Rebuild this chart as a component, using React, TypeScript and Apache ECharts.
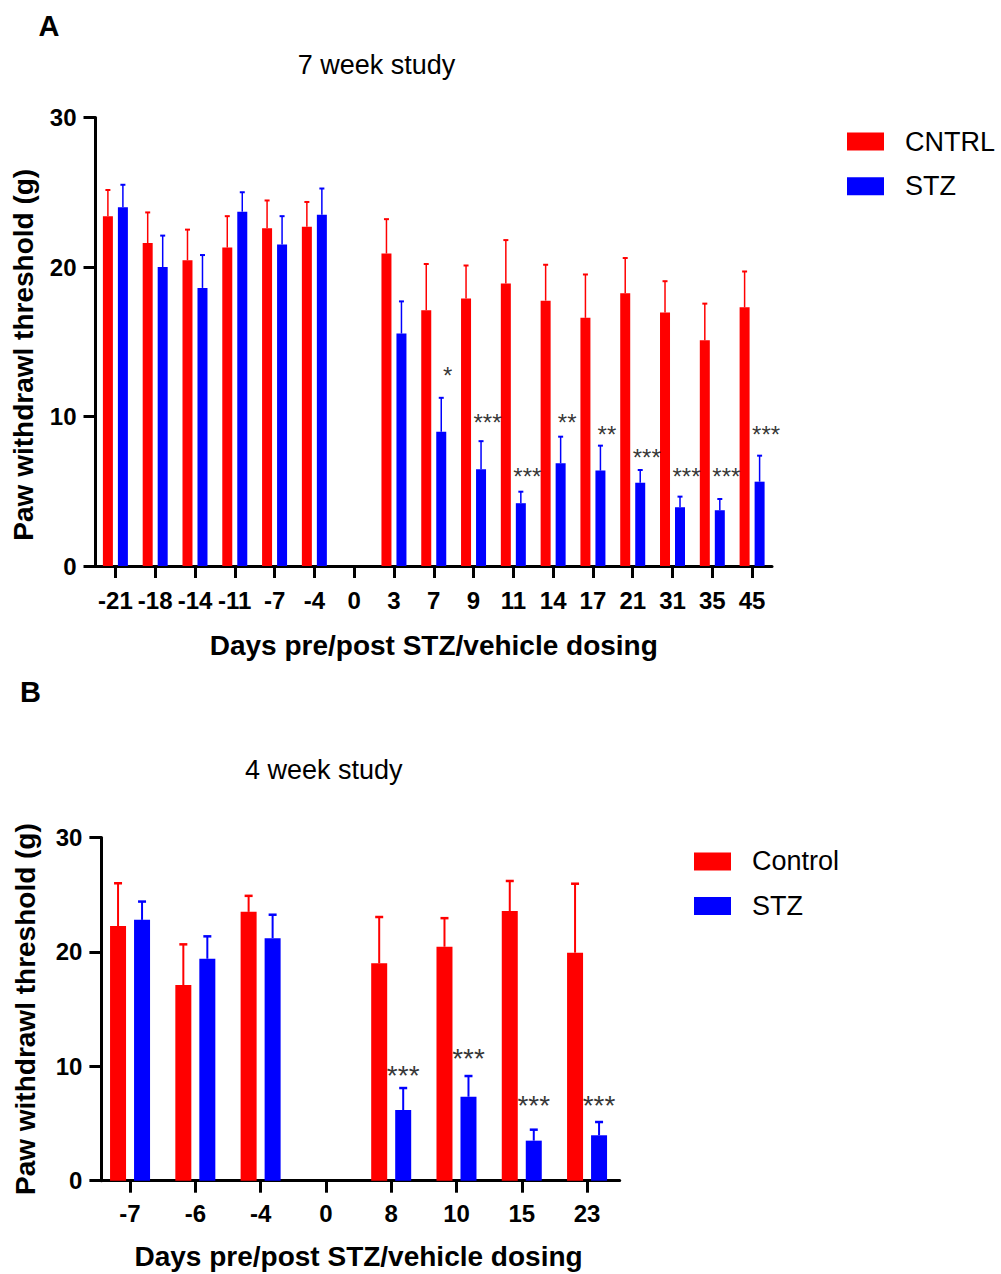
import React, { useEffect, useRef } from "react";
import * as echarts from "echarts";

// ---------- Panel A: 7 week study ----------
const daysA = ["-21", "-18", "-14", "-11", "-7", "-4", "0", "3", "7", "9", "11", "14", "17", "21", "31", "35", "45"];
const cntrlA = [23.4, 21.6, 20.45, 21.3, 22.6, 22.7, null, 20.9, 17.1, 17.9, 18.9, 17.75, 16.6, 18.25, 16.95, 15.1, 17.3];
const cntrlErrA = [1.75, 2.05, 2.05, 2.1, 1.85, 1.65, null, 2.3, 3.1, 2.2, 2.9, 2.4, 2.9, 2.35, 2.1, 2.45, 2.4];
const stzA = [24.0, 20.0, 18.6, 23.7, 21.5, 23.5, null, 15.55, 8.98, 6.47, 4.2, 6.87, 6.38, 5.57, 3.93, 3.73, 5.64];
const stzErrA = [1.5, 2.1, 2.2, 1.3, 1.9, 1.75, null, 2.15, 2.27, 1.88, 0.77, 1.78, 1.67, 0.85, 0.71, 0.75, 1.74];
const starsA = ["", "", "", "", "", "", "", "", "*", "***", "***", "**", "**", "***", "***", "***", "***"];
const starLevelA = [null, null, null, null, null, null, null, null, 12.9, 9.7, 6.15, 9.7, 8.9, 7.4, 6.15, 6.15, 8.9];

// ---------- Panel B: 4 week study ----------
const daysB = ["-7", "-6", "-4", "0", "8", "10", "15", "23"];
const controlB = [22.26, 17.1, 23.5, null, 19.0, 20.45, 23.57, 19.93];
const controlErrB = [3.74, 3.56, 1.4, null, 4.05, 2.5, 2.63, 6.03];
const stzB = [22.8, 19.4, 21.2, null, 6.18, 7.34, 3.5, 3.97];
const stzErrB = [1.6, 1.96, 2.05, null, 1.92, 1.81, 0.96, 1.16];
const starsB = ["", "", "", "", "***", "***", "***", "***"];
const starLevelB = [null, null, null, null, 9.68, 11.2, 7.14, 7.14];

const yTicks = [0, 10, 20, 30];

const FONT = '"Liberation Sans", Arial, Helvetica, sans-serif';
const RED = "#ff0000";
const BLUE = "#0000ff";

function errData(vals: (number | null)[], errs: (number | null)[]) {
  const out: number[][] = [];
  vals.forEach((v, i) => {
    if (v != null && errs[i] != null) out.push([i, v, errs[i] as number]);
  });
  return out;
}

function starData(levels: (number | null)[]) {
  const out: number[][] = [];
  levels.forEach((v, i) => {
    if (v != null) out.push([i, v]);
  });
  return out;
}

function errSeries(name: string, idx: number, vals: any, errs: any, color: string, dx: number, cap: number, lw: number) {
  return {
    name,
    type: "custom",
    xAxisIndex: idx,
    yAxisIndex: idx,
    data: errData(vals, errs),
    encode: { x: 0, y: 1 },
    z: 5,
    renderItem: (params: any, api: any) => {
      const i = api.value(0);
      const v = api.value(1);
      const e = api.value(2);
      const p0 = api.coord([i, v]);
      const p1 = api.coord([i, v + e]);
      const x = p0[0] + dx;
      return {
        type: "group",
        children: [
          { type: "line", shape: { x1: x, y1: p0[1], x2: x, y2: p1[1] }, style: { stroke: color, lineWidth: lw } },
          { type: "line", shape: { x1: x - cap / 2, y1: p1[1], x2: x + cap / 2, y2: p1[1] }, style: { stroke: color, lineWidth: lw + 0.5 } },
        ],
      };
    },
  };
}

function starSeries(name: string, idx: number, levels: any, labels: string[], dx: number, dy: number, fs: number) {
  return {
    name,
    type: "scatter",
    xAxisIndex: idx,
    yAxisIndex: idx,
    data: starData(levels),
    symbolSize: 1,
    itemStyle: { color: "rgba(0,0,0,0)" },
    z: 6,
    label: {
      show: true,
      position: "inside",
      offset: [dx, dy],
      fontSize: fs,
      fontFamily: FONT,
      color: "#000",
      formatter: (p: any) => labels[p.data[0]],
    },
  };
}

function xAxisCfg(idx: number, data: string[], margin: number, nameGap: number) {
  return {
    gridIndex: idx,
    type: "category",
    data,
    name: "Days pre/post STZ/vehicle dosing",
    nameLocation: "middle",
    nameGap,
    nameTextStyle: { fontSize: 28, fontWeight: "bold", color: "#000", fontFamily: FONT },
    axisLine: { show: true, lineStyle: { color: "#000", width: 3 } },
    axisTick: { show: true, alignWithLabel: true, length: 12, lineStyle: { color: "#000", width: 3 } },
    axisLabel: { interval: 0, fontSize: 24, fontWeight: "bold", color: "#000", margin, fontFamily: FONT },
    splitLine: { show: false },
  };
}

function yAxisCfg(idx: number, nameGap: number, offset: number, padding: number[]) {
  return {
    gridIndex: idx,
    type: "value",
    min: yTicks[0],
    max: yTicks[yTicks.length - 1],
    interval: 10,
    offset,
    name: "Paw withdrawl threshold (g)",
    nameLocation: "middle",
    nameRotate: 90,
    nameGap,
    nameTextStyle: { fontSize: 28, fontWeight: "bold", color: "#000", fontFamily: FONT, padding },
    axisLine: { show: true, lineStyle: { color: "#000", width: 3 } },
    axisTick: { show: true, length: 12, lineStyle: { color: "#000", width: 3 } },
    axisLabel: { fontSize: 24, fontWeight: "bold", color: "#000", margin: 19, fontFamily: FONT },
    splitLine: { show: false },
  };
}

function legendCfg(names: string[], left: number, top: number) {
  return {
    data: names,
    orient: "vertical",
    left,
    top,
    padding: 0,
    itemWidth: 37,
    itemHeight: 18,
    itemGap: 17.6,
    icon: "rect",
    selectedMode: false,
    textStyle: { fontSize: 27, color: "#000", fontFamily: FONT, padding: [0, 0, 0, 16] },
  };
}

export default function App() {
  const ref = useRef<HTMLDivElement>(null);
  useEffect(() => {
    if (!ref.current) return;
    const chart = echarts.init(ref.current, undefined, { renderer: "svg" });
    const option: any = {
      animation: false,
      backgroundColor: "#fff",
      textStyle: { fontFamily: FONT },
      grid: [
        { left: 95.5, top: 117.5, width: 676.5, height: 448.5 },
        { left: 97.4, top: 837.5, width: 522.3, height: 343.2 },
      ],
      xAxis: [xAxisCfg(0, daysA, 22, 65), xAxisCfg(1, daysB, 21, 62)],
      yAxis: [yAxisCfg(0, 58, 0, [0, 26, 0, 0]), yAxisCfg(1, 62, -4, [0, 0, 0, 0])],
      legend: [legendCfg(["CNTRL", "STZ"], 847, 128.1), legendCfg(["Control", "STZ"], 694, 847.9)],
      graphic: [
        { type: "text", x: 49, y: 26, style: { text: "A", fontSize: 29, fontWeight: "bold", fontFamily: FONT, fill: "#000", align: "center", verticalAlign: "middle" } },
        { type: "text", x: 376.5, y: 65, style: { text: "7 week study", fontSize: 27, fontFamily: FONT, fill: "#000", align: "center", verticalAlign: "middle" } },
        { type: "text", x: 30.5, y: 692, style: { text: "B", fontSize: 29, fontWeight: "bold", fontFamily: FONT, fill: "#000", align: "center", verticalAlign: "middle" } },
        { type: "text", x: 323.7, y: 770, style: { text: "4 week study", fontSize: 27, fontFamily: FONT, fill: "#000", align: "center", verticalAlign: "middle" } },
      ],
      series: [
        { name: "CNTRL", type: "bar", xAxisIndex: 0, yAxisIndex: 0, data: cntrlA, barWidth: 10, barGap: "50%", itemStyle: { color: RED } },
        { name: "STZ", type: "bar", xAxisIndex: 0, yAxisIndex: 0, data: stzA, barWidth: 10, barGap: "50%", itemStyle: { color: BLUE } },
        errSeries("errA-c", 0, cntrlA, cntrlErrA, RED, -7.5, 5, 1.5),
        errSeries("errA-s", 0, stzA, stzErrA, BLUE, 7.5, 5, 1.5),
        starSeries("starsA", 0, starLevelA, starsA, 14, 2, 24),
        { name: "Control", type: "bar", xAxisIndex: 1, yAxisIndex: 1, data: controlB, barWidth: 16, barGap: "50%", itemStyle: { color: RED } },
        { name: "STZ", type: "bar", xAxisIndex: 1, yAxisIndex: 1, data: stzB, barWidth: 16, barGap: "50%", itemStyle: { color: BLUE } },
        errSeries("errB-c", 1, controlB, controlErrB, RED, -12, 8, 2),
        errSeries("errB-s", 1, stzB, stzErrB, BLUE, 12, 8, 2),
        starSeries("starsB", 1, starLevelB, starsB, 12, 6, 28),
      ],
    };
    chart.setOption(option);
    return () => chart.dispose();
  }, []);
  return <div ref={ref} style={{ position: "absolute", left: 0, top: 0, width: 1001, height: 1274 }} />;
}
